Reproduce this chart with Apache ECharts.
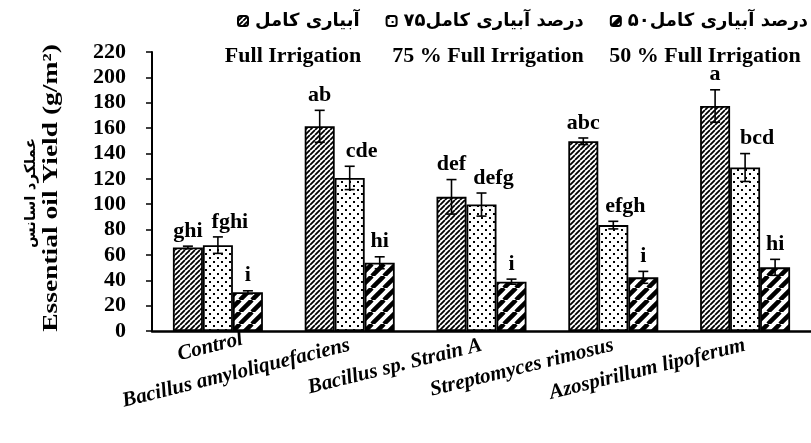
<!DOCTYPE html>
<html lang="fa">
<head>
<meta charset="UTF-8">
<title>Essential oil yield</title>
<style>
  html, body { margin: 0; padding: 0; background: #fff; }
  #main { width: 811px; height: 443px; }
</style>
</head>
<body>
<div id="main"></div>
<script src="https://cdn.jsdelivr.net/npm/echarts@6/dist/echarts.min.js"></script>
<script>
const categories = ['Control', 'Bacillus amyloliquefaciens', 'Bacillus sp. Strain A', 'Streptomyces rimosus', 'Azospirillum lipoferum'];
const seriesNamesFa = ['آبیاری کامل', '۷۵درصد آبیاری کامل', '۵۰درصد آبیاری کامل'];
const seriesNamesEn = ['Full Irrigation', '75 % Full Irrigation', '50 % Full Irrigation'];

const fullIrrigation = [65.9, 161.4, 105.8, 149.6, 177.4];
const irrigation75 = [67.7, 120.7, 99.7, 83.5, 128.9];
const irrigation50 = [30.5, 53.8, 38.9, 42.3, 50.2];

const errFull = [1.0, 12.6, 13.6, 2.6, 12.8];
const err75 = [6.5, 9.2, 9.1, 3.0, 11.0];
const err50 = [1.2, 4.7, 2.0, 4.7, 6.3];

const lettersFull = ['ghi', 'ab', 'def', 'abc', 'a'];
const letters75 = ['fghi', 'cde', 'defg', 'efgh', 'bcd'];
const letters50 = ['i', 'hi', 'i', 'i', 'hi'];

const BAR_W = 30;
const serif = '"Liberation Serif", "Times New Roman", serif';

// fill patterns
function stripes(size, width) {
    const c = document.createElement('canvas');
    c.width = c.height = size;
    const g = c.getContext('2d');
    g.fillStyle = '#fff';
    g.fillRect(0, 0, size, size);
    g.strokeStyle = '#000';
    g.lineWidth = width;
    g.beginPath();
    for (let k = -1; k <= 1; k++) {
        g.moveTo(k * size, size);
        g.lineTo(k * size + size, 0);
    }
    g.stroke();
    return { image: c, repeat: 'repeat' };
}
function dots() {
    const c = document.createElement('canvas');
    c.width = c.height = 8;
    const g = c.getContext('2d');
    g.fillStyle = '#fff';
    g.fillRect(0, 0, 8, 8);
    g.fillStyle = '#000';
    g.fillRect(1, 1, 2, 2);
    g.fillRect(5, 5, 2, 2);
    return { image: c, repeat: 'repeat' };
}
const fills = [stripes(5, 1.8), dots(), stripes(12, 4.5)];

function barSeries(k, values) {
    return {
        name: seriesNamesFa[k],
        type: 'bar',
        data: values,
        barWidth: BAR_W,
        barGap: '0%',
        itemStyle: { color: fills[k], borderColor: '#000', borderWidth: 1.8 },
        silent: true
    };
}

function errorSeries(k, values, errs, letters, dx) {
    return {
        type: 'custom',
        silent: true,
        z: 10,
        data: values.map((v, i) => [i, v, errs[i]]),
        renderItem: function (params, api) {
            const i = api.value(0), v = api.value(1), e = api.value(2);
            const x = api.coord([i, v])[0] + (k - 1) * BAR_W;
            const top = api.coord([i, v + e])[1];
            const bot = api.coord([i, v - e])[1];
            const ls = { stroke: '#000', lineWidth: 1.6 };
            return {
                type: 'group',
                children: [
                    { type: 'line', shape: { x1: x, y1: top, x2: x, y2: bot }, style: ls },
                    { type: 'line', shape: { x1: x - 5, y1: top, x2: x + 5, y2: top }, style: ls },
                    { type: 'line', shape: { x1: x - 5, y1: bot, x2: x + 5, y2: bot }, style: ls },
                    {
                        type: 'text', x: x + dx, y: top - 4,
                        style: {
                            text: letters[i], fill: '#000',
                            font: 'bold 22px ' + serif,
                            align: 'center', verticalAlign: 'bottom',
                            textAlign: 'center', textVerticalAlign: 'bottom'
                        }
                    }
                ]
            };
        }
    };
}

const chart = echarts.init(document.getElementById('main'));
chart.setOption({
    animation: false,
    backgroundColor: '#fff',
    grid: { left: 152, top: 52, width: 665, height: 279 },
    legend: {
        data: seriesNamesFa,
        left: 232,
        top: 7,
        width: 620,
        itemWidth: 10,
        itemHeight: 10,
        itemGap: 26,
        selectedMode: false,
        textStyle: { color: '#000', fontWeight: 'bold', fontSize: 18, fontFamily: '"DejaVu Sans"', padding: [0, 0, 0, 2] }
    },
    xAxis: {
        type: 'category',
        data: categories.map(c => c === 'Control'
            ? { value: c, textStyle: { align: 'center', padding: [0, 16, 0, 0] } }
            : c),
        axisLine: { lineStyle: { color: '#000', width: 2.5 } },
        axisTick: { length: 6, lineStyle: { color: '#000', width: 1.5 } },
        axisLabel: {
            interval: 0, rotate: 14, margin: 14,
            color: '#000', fontFamily: serif, fontStyle: 'italic', fontWeight: 'bold', fontSize: 21
        }
    },
    yAxis: {
        type: 'value',
        min: 0, max: 220, interval: 20,
        axisLine: { show: true, lineStyle: { color: '#000', width: 2 } },
        axisTick: { show: true, length: 6, lineStyle: { color: '#000', width: 1.5 } },
        splitLine: { show: false },
        axisLabel: { color: '#000', fontFamily: serif, fontWeight: 'bold', fontSize: 22, margin: 26 }
    },
    graphic: [
        { type: 'text', x: 51, y: 188, rotation: Math.PI / 2, scaleX: 1.25,
          style: { text: 'Essential oil Yield (g/m²)', fill: '#000', font: 'bold 22px ' + serif,
                   align: 'center', verticalAlign: 'middle', textAlign: 'center', textVerticalAlign: 'middle' } },
        { type: 'text', x: 31, y: 193, rotation: Math.PI / 2,
          style: { text: 'عملکرد اسانس', fill: '#000', font: 'bold 15px "DejaVu Sans"',
                   align: 'center', verticalAlign: 'middle', textAlign: 'center', textVerticalAlign: 'middle' } }
    ].concat(seriesNamesEn.map((t, k) => ({
        type: 'text', x: [293, 488, 705][k], y: 56,
        style: { text: t, fill: '#000', font: 'bold 22px ' + serif,
                 align: 'center', verticalAlign: 'middle', textAlign: 'center', textVerticalAlign: 'middle' }
    }))),
    series: [
        barSeries(0, fullIrrigation),
        barSeries(1, irrigation75),
        barSeries(2, irrigation50),
        errorSeries(0, fullIrrigation, errFull, lettersFull, 0),
        errorSeries(1, irrigation75, err75, letters75, 12),
        errorSeries(2, irrigation50, err50, letters50, 0)
    ]
});
</script>
</body>
</html>
